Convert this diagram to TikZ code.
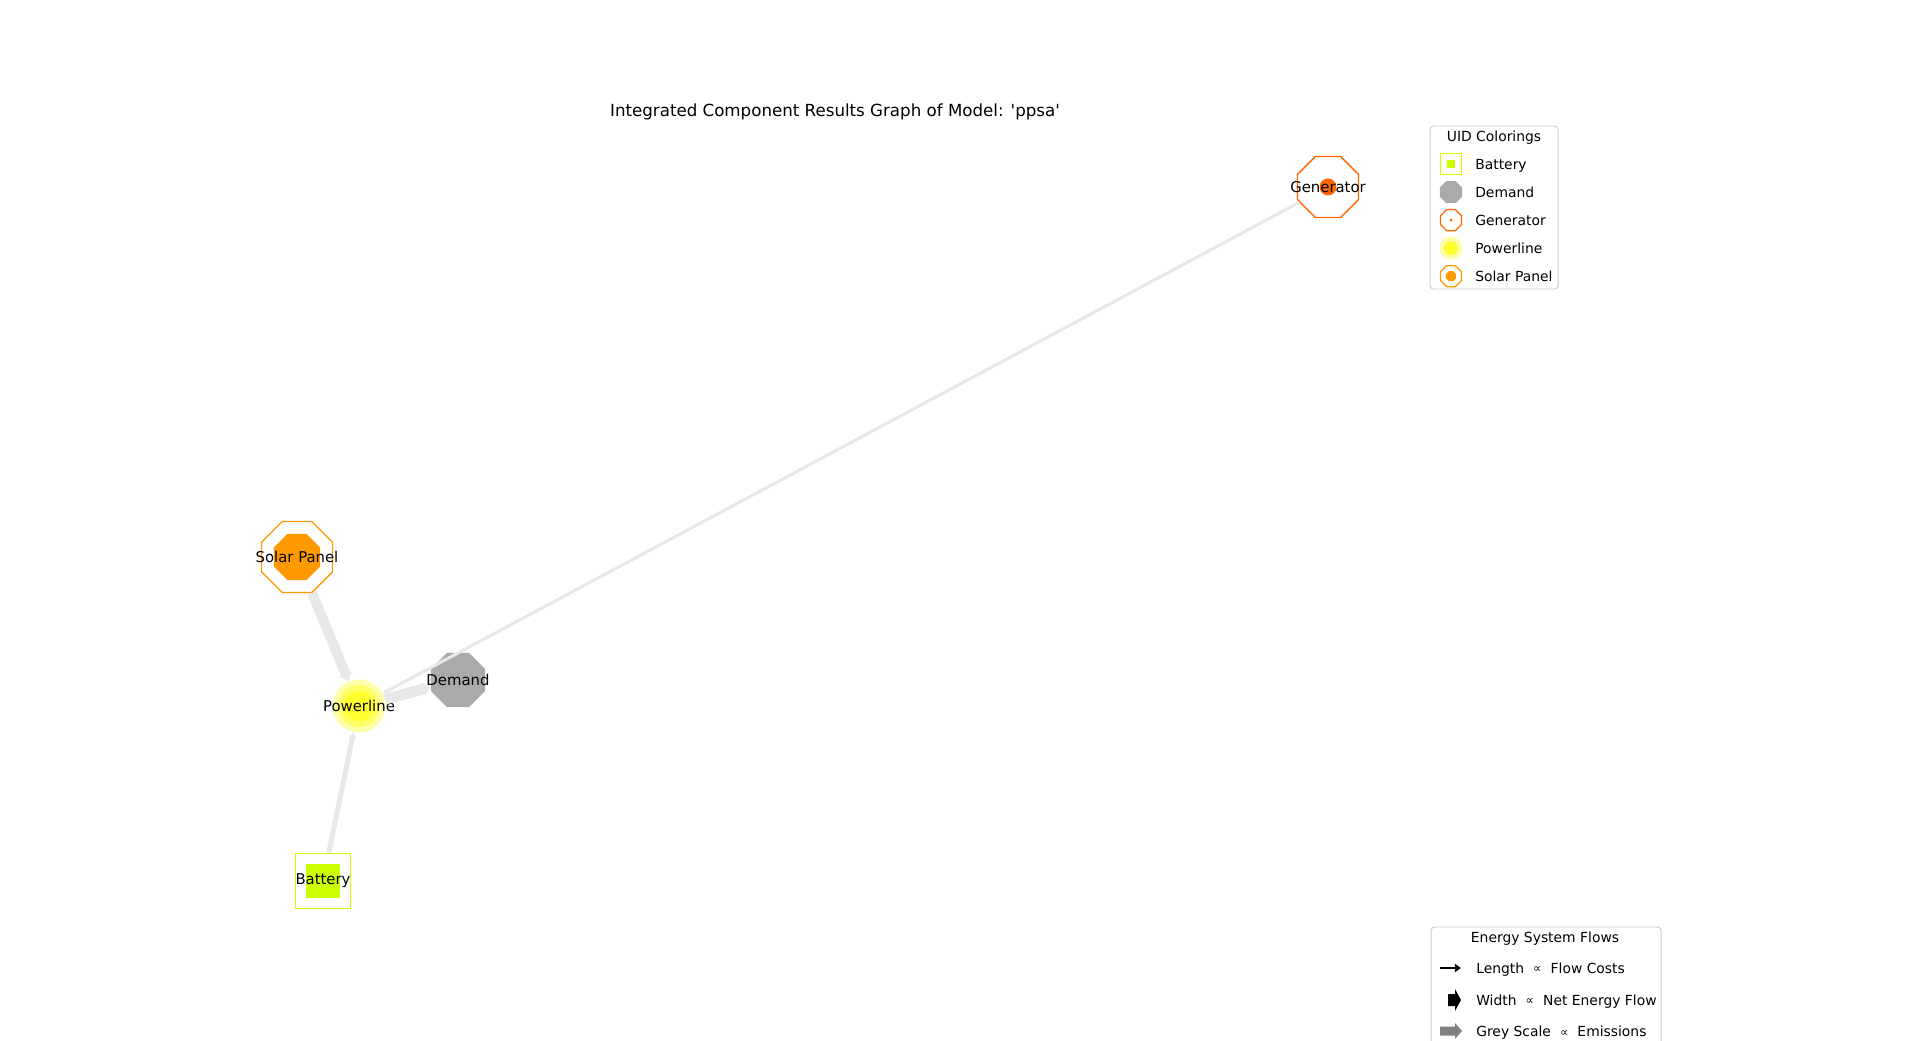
\documentclass[tikz,border=0pt]{standalone}
\usepackage{fontspec}
\setmainfont{DejaVu Sans}
\usetikzlibrary{positioning,arrows.meta,shapes.geometric}

\definecolor{edgegrey}{RGB}{232,232,232}
\definecolor{genorange}{RGB}{255,102,0}
\definecolor{solorange}{RGB}{255,153,0}
\definecolor{batgreen}{RGB}{204,255,0}
\definecolor{demgrey}{RGB}{170,170,170}
\definecolor{powpale}{RGB}{255,255,170}
\definecolor{powmid}{RGB}{255,255,100}
\definecolor{powyellow}{RGB}{255,255,45}
\definecolor{legframe}{RGB}{204,204,204}
\definecolor{emisgrey}{RGB}{128,128,128}

\newcommand{\zw}[1]{\makebox[0pt]{#1}}
\newcommand{\prp}{\hspace{6.5pt}\raisebox{0.3pt}{\fontsize{8.5}{9}\selectfont ∝}\hspace{6.5pt}}

\begin{document}
\begin{tikzpicture}[
        x=0.72pt, y=-0.72pt,
        every node/.style={font=\fontsize{10.7}{12}\selectfont},
        octo/.style={regular polygon, regular polygon sides=8, inner sep=0pt},
        ring/.style={circle, inner sep=0pt},
        sq/.style={rectangle, inner sep=0pt},
        flow/.style={draw=edgegrey, -{Triangle[length=3pt 0.35, width=1pt 1.1]}},
        legtext/.style={font=\fontsize{10}{12}\selectfont, inner sep=0pt,
                        text height=7.3pt, text depth=0pt},
        legbox/.style={draw=legframe, rounded corners=2.5pt, line width=0.7pt}
    ]
        \useasboundingbox (0,0) rectangle (1920,1041);
        \clip (0,0) rectangle (1920,1041);

        \node[font=\fontsize{12}{14}\selectfont] (title) at (835,112)
            {Integrated Component Results Graph of Model: \textquotesingle ppsa\textquotesingle};

        \node[ring, fill=genorange, minimum size=12.2pt] (genin) at (1328,187) {};
        \node[octo, draw=genorange, line width=1pt, minimum size=47.5pt] (gen) at (1328,187) {\zw{Generator}};
        \node[octo, fill=solorange, minimum size=35.9pt] (solin) at (297,557) {};
        \node[octo, draw=solorange, line width=1pt, minimum size=55.4pt] (sol) at (297,557) {\zw{Solar Panel}};
        \node[octo, fill=demgrey, minimum size=42.1pt] (dem) at (458,680) {\zw{Demand}};
        \node[ring, fill=powpale, minimum size=38.2pt] (pow) at (359,706) {};
        \node[ring, fill=powmid, minimum size=30.2pt] (powmid) at (pow) {};
        \node[ring, fill=powyellow, minimum size=21.6pt] (powin) at (pow) {};
        \node (powlbl) at (pow) {\zw{Powerline}};
        \node[sq, fill=batgreen, minimum size=24.1pt] (batin) at (323,881) {};
        \node[sq, draw=batgreen, line width=1pt, minimum size=39.6pt] (bat) at (323,881) {\zw{Battery}};

        \draw[flow, line width=2.2pt] (gen) -- (pow);
        \draw[flow, line width=7.2pt] (sol) -- (pow);
        \draw[flow, line width=7.8pt] (pow) -- (dem);
        \draw[flow, line width=3.6pt] (bat) -- (pow);

        \draw[legbox] (1430,126) rectangle (1558,289);
        \node[legtext] (uidtitle) at (1494,136) {UID Colorings};
        \node[legtext, anchor=west] (lbat) at (1475,164) {Battery};
        \node[legtext, below=20.2pt of lbat.west, anchor=west] (ldem) {Demand};
        \node[legtext, below=20.2pt of ldem.west, anchor=west] (lgen) {Generator};
        \node[legtext, below=20.2pt of lgen.west, anchor=west] (lpow) {Powerline};
        \node[legtext, below=20.2pt of lpow.west, anchor=west] (lsol) {Solar Panel};

        \node[sq, draw=batgreen, line width=0.9pt, minimum size=14.9pt, left=17.3pt of lbat.west, anchor=center] (mbat) {};
        \node[sq, fill=batgreen, minimum size=6pt] (mbatin) at (mbat) {};
        \node[octo, fill=demgrey, minimum size=17.4pt, left=17.3pt of ldem.west, anchor=center] (mdem) {};
        \node[octo, draw=genorange, line width=0.9pt, minimum size=16.4pt, left=17.3pt of lgen.west, anchor=center] (mgen) {};
        \node[ring, fill=genorange, minimum size=2.2pt] (mgenin) at (mgen) {};
        \node[ring, fill=powpale, minimum size=16.6pt, left=17.3pt of lpow.west, anchor=center] (mpow) {};
        \node[ring, fill=powyellow, minimum size=10pt] (mpowin) at (mpow) {};
        \node[octo, draw=solorange, line width=0.9pt, minimum size=16.4pt, left=17.3pt of lsol.west, anchor=center] (msol) {};
        \node[octo, fill=solorange, minimum size=7.8pt] (msolin) at (msol) {};

        \draw[legbox] (1431,927) rectangle (1661,1070);
        \node[legtext] (flowtitle) at (1545,937) {Energy System Flows};
        \node[legtext, anchor=west] (llen) at (1476,968) {Length\prp Flow Costs};
        \node[legtext, below=23pt of llen.west, anchor=west] (lwid) {Width\prp Net Energy Flow};
        \node[legtext, below=23pt of lwid.west, anchor=west] (lgrey) {Grey Scale\prp Emissions};

        \draw[line width=1.4pt, -{Triangle[length=4.5pt, width=6pt]}] (1440,968) -- (1461,968);
        \fill (1448,994) -- (1455,994) -- (1455,989) -- (1461,1000) -- (1455,1011) -- (1455,1006) -- (1448,1006) -- cycle;
        \fill[emisgrey] (1440,1026.5) -- (1455,1026.5) -- (1455,1023) -- (1462,1031) -- (1455,1039) -- (1455,1035.5) -- (1440,1035.5) -- cycle;
    \end{tikzpicture}
\end{document}
